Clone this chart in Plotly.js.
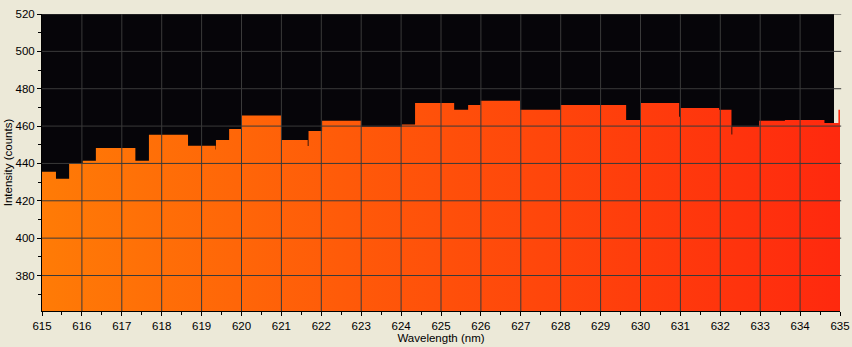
<!DOCTYPE html>
<html>
<head>
<meta charset="utf-8">
<script src="https://cdn.plot.ly/plotly-3.0.1.min.js"></script>
<style>
html,body{margin:0;padding:0;background:#ECE9D8;}
#chart{width:852px;height:347px;}
</style>
</head>
<body>
<div id="chart"></div>
<script>
// Step edges (nm) and intensity (counts)
var wavelength = [615.00, 615.35, 615.68, 616.02, 616.35, 617.34, 617.68, 618.66,
  619.35, 619.36, 619.69, 620.00, 621.00, 621.66, 621.68, 622.02, 623.00, 624.02,
  624.35, 625.33, 625.68, 625.99, 626.98, 628.00, 629.64, 629.99, 630.97, 630.99,
  631.97, 632.28, 632.30, 632.97, 633.62, 634.61, 634.96, 635.00];
var counts = [435.5, 431.8, 440.2, 441.4, 448.3, 441.4, 455.3, 449.5,
  447.5, 452.6, 458.5, 465.6, 452.6, 449.4, 457.4, 462.8, 459.6, 460.8,
  472.4, 468.7, 471.3, 473.5, 468.7, 471.3, 463.3, 472.4, 465.0, 469.7,
  468.7, 455.5, 459.7, 462.8, 463.3, 461.7, 468.7, 468.7];

var xTicks = [615,616,617,618,619,620,621,622,623,624,625,626,627,628,629,630,631,632,633,634,635];
var yTicks = [380,400,420,440,460,480,500,520];

var shapes = [];
// region right of the drawn plot area (beige, under the data)
shapes.push({type:'rect', xref:'x', yref:'paper', x0:634.85, x1:635.3, y0:0, y1:1,
  fillcolor:'#ECE9D8', line:{width:0}, layer:'below'});
xTicks.forEach(function(v){
  if (v > 615 && v < 635) shapes.push({type:'line', xref:'x', yref:'paper', x0:v, x1:v, y0:0, y1:1,
    line:{color:'#3a3a3a', width:1}, layer:'above'});
});
yTicks.forEach(function(v){
  shapes.push({type:'line', xref:'paper', yref:'y', x0:0, x1:1.0015, y0:v, y1:v,
    line:{color:'#3a3a3a', width:1}, layer:'above'});
});

var trace = {
  x: wavelength, y: counts, type:'scatter', mode:'lines',
  line:{shape:'hv', width:0, color:'rgba(0,0,0,0)'},
  fill:'tozeroy',
  fillgradient:{type:'horizontal', colorscale:[[0,'#FF7B06'],[0.5,'#FF500A'],[1,'#FF290E']]},
  hoverinfo:'x+y', showlegend:false
};

var fnt = {family:'"Liberation Sans", Arial, sans-serif', size:11.5, color:'#000'};
var layout = {
  width:852, height:347,
  margin:{l:42, r:12, t:14, b:36, pad:0},
  paper_bgcolor:'#ECE9D8', plot_bgcolor:'#060509',
  font:fnt, showlegend:false,
  xaxis:{range:[615,635], tickvals:xTicks, ticktext:xTicks.map(String),
    showgrid:false, zeroline:false, showline:true, linecolor:'#000', linewidth:1,
    ticks:'outside', ticklen:4, tickcolor:'#000', tickfont:fnt,
    minor:{dtick:0.5, ticks:'outside', ticklen:3, tickcolor:'#000', showgrid:false},
    title:{text:'Wavelength (nm)', font:fnt, standoff:1}, layer:'above traces', fixedrange:true},
  yaxis:{range:[361,520], tickvals:yTicks, ticktext:yTicks.map(String),
    showgrid:false, zeroline:false, showline:true, linecolor:'#000', linewidth:1,
    ticks:'outside', ticklen:4, tickcolor:'#000', tickfont:fnt,
    minor:{dtick:10, ticks:'outside', ticklen:3, tickcolor:'#000', showgrid:false},
    title:{text:'Intensity (counts)', font:fnt, standoff:0}, layer:'above traces', fixedrange:true},
  shapes: shapes
};
Plotly.newPlot('chart', [trace], layout, {displayModeBar:false, staticPlot:true});
</script>
</body>
</html>
